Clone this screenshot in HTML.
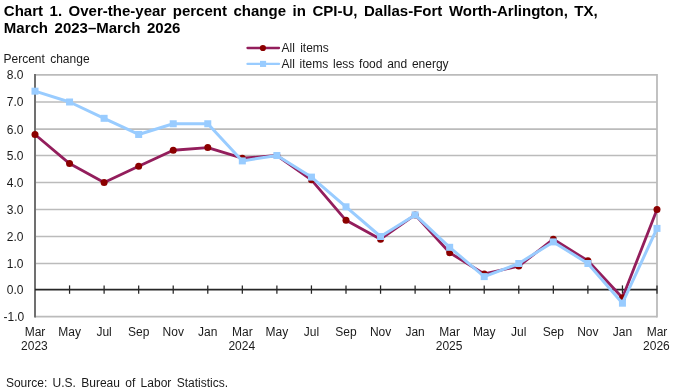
<!DOCTYPE html>
<html><head><meta charset="utf-8"><style>
html,body{margin:0;padding:0;background:#fff;width:680px;height:392px;overflow:hidden}
svg{display:block}
text{-webkit-font-smoothing:antialiased}
svg{will-change:transform}
.t{font-family:"Liberation Sans", sans-serif;font-size:12px;fill:#1a1a1a;word-spacing:2px}
.h{font-family:"Liberation Sans", sans-serif;font-size:15px;font-weight:bold;fill:#000;word-spacing:2.4px}
</style></head><body>
<svg width="680" height="392" viewBox="0 0 680 392">
<line x1="35.0" x2="657.0" y1="316.70" y2="316.70" stroke="#BBBBBB" stroke-width="1.7"/>
<line x1="35.0" x2="657.0" y1="263.50" y2="263.50" stroke="#BBBBBB" stroke-width="1.7"/>
<line x1="35.0" x2="657.0" y1="236.50" y2="236.50" stroke="#BBBBBB" stroke-width="1.7"/>
<line x1="35.0" x2="657.0" y1="209.50" y2="209.50" stroke="#BBBBBB" stroke-width="1.7"/>
<line x1="35.0" x2="657.0" y1="182.50" y2="182.50" stroke="#BBBBBB" stroke-width="1.7"/>
<line x1="35.0" x2="657.0" y1="155.50" y2="155.50" stroke="#BBBBBB" stroke-width="1.7"/>
<line x1="35.0" x2="657.0" y1="129.20" y2="129.20" stroke="#BBBBBB" stroke-width="1.7"/>
<line x1="35.0" x2="657.0" y1="102.00" y2="102.00" stroke="#BBBBBB" stroke-width="1.7"/>
<line x1="35.0" x2="657.0" y1="74.95" y2="74.95" stroke="#BBBBBB" stroke-width="1.7"/>
<line x1="657.0" x2="657.0" y1="74.10" y2="317.55" stroke="#BBBBBB" stroke-width="1.8"/>
<line x1="35.0" x2="35.0" y1="74.10" y2="317.55" stroke="#707070" stroke-width="2"/>
<line x1="35.0" x2="657.0" y1="289.70" y2="289.70" stroke="#262626" stroke-width="1.7"/>
<line x1="69.56" x2="69.56" y1="285.40" y2="293.80" stroke="#262626" stroke-width="1.25"/>
<line x1="104.11" x2="104.11" y1="285.40" y2="293.80" stroke="#262626" stroke-width="1.25"/>
<line x1="138.67" x2="138.67" y1="285.40" y2="293.80" stroke="#262626" stroke-width="1.25"/>
<line x1="173.22" x2="173.22" y1="285.40" y2="293.80" stroke="#262626" stroke-width="1.25"/>
<line x1="207.78" x2="207.78" y1="285.40" y2="293.80" stroke="#262626" stroke-width="1.25"/>
<line x1="242.33" x2="242.33" y1="285.40" y2="293.80" stroke="#262626" stroke-width="1.25"/>
<line x1="276.89" x2="276.89" y1="285.40" y2="293.80" stroke="#262626" stroke-width="1.25"/>
<line x1="311.44" x2="311.44" y1="285.40" y2="293.80" stroke="#262626" stroke-width="1.25"/>
<line x1="346.00" x2="346.00" y1="285.40" y2="293.80" stroke="#262626" stroke-width="1.25"/>
<line x1="380.56" x2="380.56" y1="285.40" y2="293.80" stroke="#262626" stroke-width="1.25"/>
<line x1="415.11" x2="415.11" y1="285.40" y2="293.80" stroke="#262626" stroke-width="1.25"/>
<line x1="449.67" x2="449.67" y1="285.40" y2="293.80" stroke="#262626" stroke-width="1.25"/>
<line x1="484.22" x2="484.22" y1="285.40" y2="293.80" stroke="#262626" stroke-width="1.25"/>
<line x1="518.78" x2="518.78" y1="285.40" y2="293.80" stroke="#262626" stroke-width="1.25"/>
<line x1="553.33" x2="553.33" y1="285.40" y2="293.80" stroke="#262626" stroke-width="1.25"/>
<line x1="587.89" x2="587.89" y1="285.40" y2="293.80" stroke="#262626" stroke-width="1.25"/>
<line x1="622.44" x2="622.44" y1="285.40" y2="293.80" stroke="#262626" stroke-width="1.25"/>
<line x1="657.00" x2="657.00" y1="285.40" y2="293.80" stroke="#262626" stroke-width="1.25"/>
<polyline points="35.00,134.46 69.56,163.60 104.11,182.50 138.67,166.30 173.22,150.24 207.78,147.61 242.33,158.20 276.89,155.50 311.44,179.80 346.00,220.30 380.56,239.20 415.11,214.90 449.67,252.70 484.22,273.98 518.78,266.12 553.33,239.20 587.89,260.80 622.44,297.80 657.00,209.50" fill="none" stroke="#931E5C" stroke-width="2.8" stroke-linejoin="round"/>
<circle cx="35.00" cy="134.46" r="3.5" fill="#8B0000"/>
<circle cx="69.56" cy="163.60" r="3.5" fill="#8B0000"/>
<circle cx="104.11" cy="182.50" r="3.5" fill="#8B0000"/>
<circle cx="138.67" cy="166.30" r="3.5" fill="#8B0000"/>
<circle cx="173.22" cy="150.24" r="3.5" fill="#8B0000"/>
<circle cx="207.78" cy="147.61" r="3.5" fill="#8B0000"/>
<circle cx="242.33" cy="158.20" r="3.5" fill="#8B0000"/>
<circle cx="276.89" cy="155.50" r="3.5" fill="#8B0000"/>
<circle cx="311.44" cy="179.80" r="3.5" fill="#8B0000"/>
<circle cx="346.00" cy="220.30" r="3.5" fill="#8B0000"/>
<circle cx="380.56" cy="239.20" r="3.5" fill="#8B0000"/>
<circle cx="415.11" cy="214.90" r="3.5" fill="#8B0000"/>
<circle cx="449.67" cy="252.70" r="3.5" fill="#8B0000"/>
<circle cx="484.22" cy="273.98" r="3.5" fill="#8B0000"/>
<circle cx="518.78" cy="266.12" r="3.5" fill="#8B0000"/>
<circle cx="553.33" cy="239.20" r="3.5" fill="#8B0000"/>
<circle cx="587.89" cy="260.80" r="3.5" fill="#8B0000"/>
<circle cx="622.44" cy="297.80" r="3.5" fill="#8B0000"/>
<circle cx="657.00" cy="209.50" r="3.5" fill="#8B0000"/>
<polyline points="35.00,91.18 69.56,102.00 104.11,118.32 138.67,134.46 173.22,123.76 207.78,123.76 242.33,160.90 276.89,155.50 311.44,177.10 346.00,206.80 380.56,236.50 415.11,214.90 449.67,247.30 484.22,276.60 518.78,263.50 553.33,241.90 587.89,263.50 622.44,303.20 657.00,228.40" fill="none" stroke="#99CCFF" stroke-width="3" stroke-linejoin="round"/>
<rect x="31.50" y="87.68" width="7.0" height="7.0" fill="#99CCFF"/>
<rect x="66.06" y="98.50" width="7.0" height="7.0" fill="#99CCFF"/>
<rect x="100.61" y="114.82" width="7.0" height="7.0" fill="#99CCFF"/>
<rect x="135.17" y="130.96" width="7.0" height="7.0" fill="#99CCFF"/>
<rect x="169.72" y="120.26" width="7.0" height="7.0" fill="#99CCFF"/>
<rect x="204.28" y="120.26" width="7.0" height="7.0" fill="#99CCFF"/>
<rect x="238.83" y="157.40" width="7.0" height="7.0" fill="#99CCFF"/>
<rect x="273.39" y="152.00" width="7.0" height="7.0" fill="#99CCFF"/>
<rect x="307.94" y="173.60" width="7.0" height="7.0" fill="#99CCFF"/>
<rect x="342.50" y="203.30" width="7.0" height="7.0" fill="#99CCFF"/>
<rect x="377.06" y="233.00" width="7.0" height="7.0" fill="#99CCFF"/>
<rect x="411.61" y="211.40" width="7.0" height="7.0" fill="#99CCFF"/>
<rect x="446.17" y="243.80" width="7.0" height="7.0" fill="#99CCFF"/>
<rect x="480.72" y="273.10" width="7.0" height="7.0" fill="#99CCFF"/>
<rect x="515.28" y="260.00" width="7.0" height="7.0" fill="#99CCFF"/>
<rect x="549.83" y="238.40" width="7.0" height="7.0" fill="#99CCFF"/>
<rect x="584.39" y="260.00" width="7.0" height="7.0" fill="#99CCFF"/>
<rect x="618.94" y="299.70" width="7.0" height="7.0" fill="#99CCFF"/>
<rect x="653.50" y="224.90" width="7.0" height="7.0" fill="#99CCFF"/>
<text x="24.2" y="321.10" text-anchor="end" class="t">-1.0</text>
<text x="23.4" y="294.10" text-anchor="end" class="t">0.0</text>
<text x="23.4" y="267.90" text-anchor="end" class="t">1.0</text>
<text x="23.4" y="240.90" text-anchor="end" class="t">2.0</text>
<text x="23.4" y="213.90" text-anchor="end" class="t">3.0</text>
<text x="23.4" y="186.90" text-anchor="end" class="t">4.0</text>
<text x="23.4" y="159.90" text-anchor="end" class="t">5.0</text>
<text x="23.4" y="133.60" text-anchor="end" class="t">6.0</text>
<text x="23.4" y="106.40" text-anchor="end" class="t">7.0</text>
<text x="23.4" y="79.35" text-anchor="end" class="t">8.0</text>
<text x="35.00" y="336" text-anchor="middle" class="t">Mar</text>
<text x="34.40" y="350" text-anchor="middle" class="t">2023</text>
<text x="69.56" y="336" text-anchor="middle" class="t">May</text>
<text x="104.11" y="336" text-anchor="middle" class="t">Jul</text>
<text x="138.67" y="336" text-anchor="middle" class="t">Sep</text>
<text x="173.22" y="336" text-anchor="middle" class="t">Nov</text>
<text x="207.78" y="336" text-anchor="middle" class="t">Jan</text>
<text x="242.33" y="336" text-anchor="middle" class="t">Mar</text>
<text x="241.73" y="350" text-anchor="middle" class="t">2024</text>
<text x="276.89" y="336" text-anchor="middle" class="t">May</text>
<text x="311.44" y="336" text-anchor="middle" class="t">Jul</text>
<text x="346.00" y="336" text-anchor="middle" class="t">Sep</text>
<text x="380.56" y="336" text-anchor="middle" class="t">Nov</text>
<text x="415.11" y="336" text-anchor="middle" class="t">Jan</text>
<text x="449.67" y="336" text-anchor="middle" class="t">Mar</text>
<text x="449.07" y="350" text-anchor="middle" class="t">2025</text>
<text x="484.22" y="336" text-anchor="middle" class="t">May</text>
<text x="518.78" y="336" text-anchor="middle" class="t">Jul</text>
<text x="553.33" y="336" text-anchor="middle" class="t">Sep</text>
<text x="587.89" y="336" text-anchor="middle" class="t">Nov</text>
<text x="622.44" y="336" text-anchor="middle" class="t">Jan</text>
<text x="657.00" y="336" text-anchor="middle" class="t">Mar</text>
<text x="656.40" y="350" text-anchor="middle" class="t">2026</text>
<line x1="247.5" x2="279" y1="48" y2="48" stroke="#931E5C" stroke-width="2.3" stroke-linecap="round"/>
<circle cx="262.9" cy="48" r="3.1" fill="#8B0000"/>
<text x="281.5" y="51.7" class="t">All items</text>
<line x1="247.5" x2="279" y1="63.9" y2="63.9" stroke="#99CCFF" stroke-width="2.3" stroke-linecap="round"/>
<rect x="260" y="60.85" width="6.1" height="6.1" fill="#99CCFF"/>
<text x="281.5" y="67.5" class="t" style="word-spacing:1.4px">All items less food and energy</text>
<text x="3.8" y="15.5" class="h">Chart 1. Over-the-year percent change in CPI-U, Dallas-Fort Worth-Arlington, TX,</text>
<text x="3.8" y="32.6" class="h">March 2023–March 2026</text>
<text x="3.5" y="62.6" class="t">Percent change</text>
<text x="5.9" y="387.2" class="t">Source: U.S. Bureau of Labor Statistics.</text>
</svg>
</body></html>
